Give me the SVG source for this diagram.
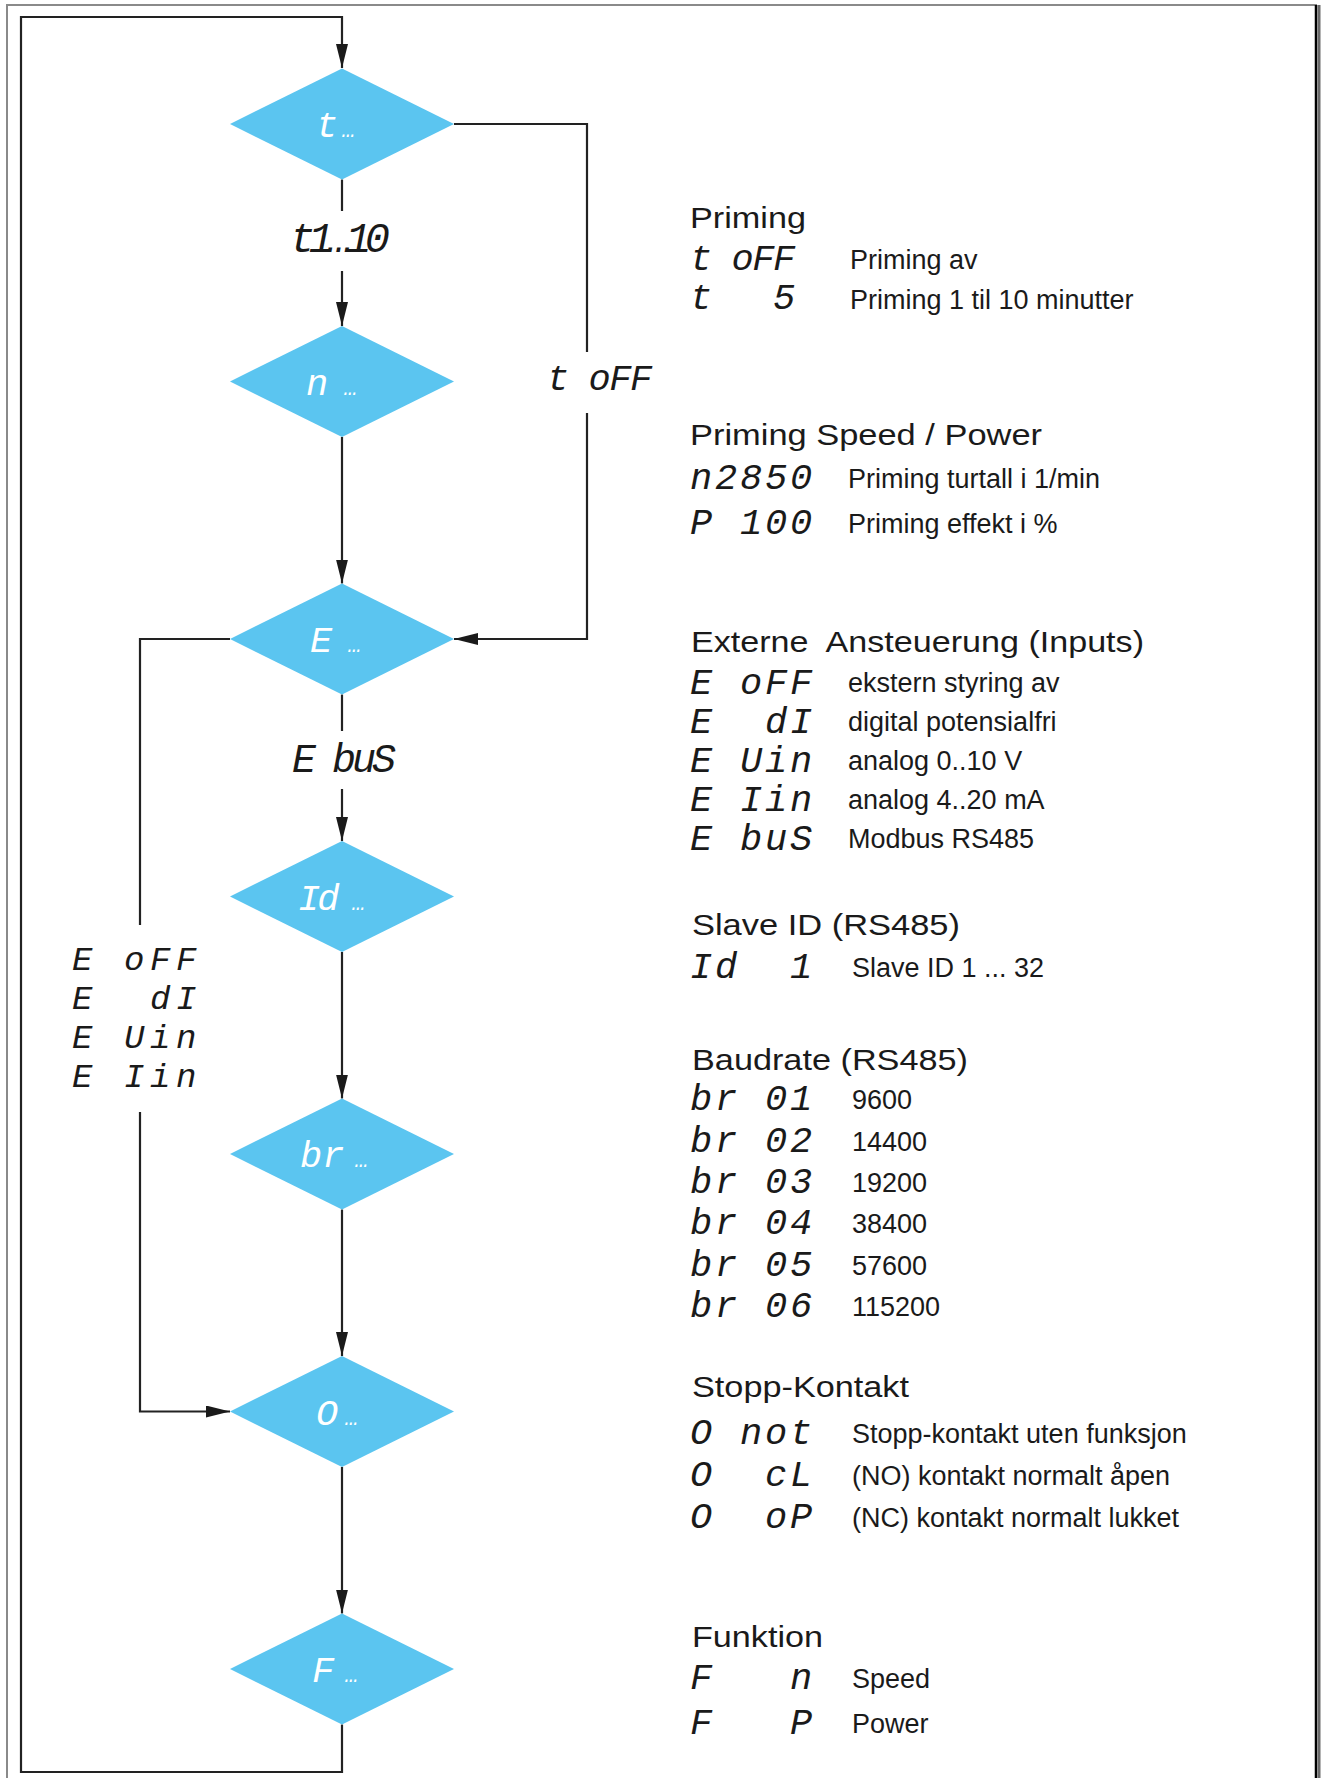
<svg xmlns="http://www.w3.org/2000/svg" width="1321" height="1778" viewBox="0 0 1321 1778">
<style>
.frame-g{stroke:#8a8a8a;stroke-width:2;fill:none}
.frame-k{stroke:#000;stroke-width:2.5;fill:none}
.dia{fill:#5BC5F0;stroke:none}
.ln{stroke:#222;stroke-width:2.2;fill:none}
.arr{stroke:#222;stroke-width:2.2;fill:none;marker-end:url(#ah)}
.title{font-family:"Liberation Sans",Arial,sans-serif;font-size:30px;fill:#1a1a1a}
.desc{font-family:"Liberation Sans",Arial,sans-serif;font-size:27px;fill:#1a1a1a}
.seg{font-family:"Liberation Mono","DejaVu Sans Mono",monospace;font-style:italic;font-size:37px;fill:#1a1a1a;letter-spacing:2.8px;white-space:pre}
.segl{font-family:"Liberation Mono","DejaVu Sans Mono",monospace;font-style:italic;font-size:40px;fill:#1a1a1a;letter-spacing:2px;white-space:pre}
.segb{font-family:"Liberation Mono","DejaVu Sans Mono",monospace;font-style:italic;font-size:34px;fill:#1a1a1a;letter-spacing:5.6px;white-space:pre}
.segw{font-family:"Liberation Mono","DejaVu Sans Mono",monospace;font-style:italic;font-size:37px;fill:#fff;white-space:pre}
.dots{font-size:22px}
</style>
<defs>
<marker id="ah" viewBox="0 0 24 12" refX="24" refY="6" markerWidth="24" markerHeight="12" markerUnits="userSpaceOnUse" orient="auto">
<path d="M0,0 L24,6 L0,12 Z" fill="#1a1a1a"/>
</marker>
</defs>
<rect width="1321" height="1778" fill="#fff"/>
<g id="frame">
<path class="frame-g" d="M7,1778 V5 H1317"/>
<path class="frame-k" d="M1316,5 V1778"/>
<path d="M1319,5 V1778" stroke="#6a6a6a" stroke-width="3" fill="none"/>
</g>
<g id="connectors">
<path class="arr" d="M342,1724.5 V1772 H21 V17 H342 V68"/>
<path class="ln" d="M342,179.5 V211"/>
<path class="arr" d="M342,271 V326"/>
<path class="arr" d="M342,437 V583.5"/>
<path class="ln" d="M342,694.5 V731"/>
<path class="arr" d="M342,789 V841"/>
<path class="arr" d="M342,952 V1098.5"/>
<path class="arr" d="M342,1209.5 V1356"/>
<path class="arr" d="M342,1467 V1613.5"/>
<path class="ln" d="M454,124 H587 V352"/>
<path class="arr" d="M587,413 V639 H454"/>
<path class="ln" d="M230,639 H140 V925"/>
<path class="arr" d="M140,1112 V1411.5 H230"/>
<text class="segl" x="290" y="252" style="font-size:42px" textLength="102">t1…10</text>
<text class="seg" x="547" y="390" textLength="108">t oFF</text>
<text class="segl" x="292" y="772" textLength="106">E buS</text>
<text class="segb" x="72" y="970">E oFF</text>
<text class="segb" x="72" y="1009">E  dI</text>
<text class="segb" x="72" y="1048">E Uin</text>
<text class="segb" x="72" y="1087">E Iin</text>
</g>
<g id="node-t">
<path class="dia" d="M342,68.5 L454,124 L342,179.5 L230,124 Z"/>
<text class="segw" x="316" y="137">t<tspan class="dots" x="342">…</tspan></text>
</g>
<g id="node-n">
<path class="dia" d="M342,326 L454,381.5 L342,437 L230,381.5 Z"/>
<text class="segw" x="306" y="394.5">n<tspan class="dots" x="344">…</tspan></text>
</g>
<g id="node-E">
<path class="dia" d="M342,583.5 L454,639 L342,694.5 L230,639 Z"/>
<text class="segw" x="310" y="652">E<tspan class="dots" x="348">…</tspan></text>
</g>
<g id="node-Id">
<path class="dia" d="M342,841 L454,896.5 L342,952 L230,896.5 Z"/>
<text class="segw" x="298" y="909.5" style="letter-spacing:-3px">Id<tspan class="dots" x="352" style="letter-spacing:0">…</tspan></text>
</g>
<g id="node-br">
<path class="dia" d="M342,1098.5 L454,1154 L342,1209.5 L230,1154 Z"/>
<text class="segw" x="300" y="1167">br<tspan class="dots" x="355">…</tspan></text>
</g>
<g id="node-O">
<path class="dia" d="M342,1356 L454,1411.5 L342,1467 L230,1411.5 Z"/>
<text class="segw" x="316" y="1424.5">O<tspan class="dots" x="345">…</tspan></text>
</g>
<g id="node-F">
<path class="dia" d="M342,1613.5 L454,1669 L342,1724.5 L230,1669 Z"/>
<text class="segw" x="312" y="1682">F<tspan class="dots" x="345">…</tspan></text>
</g>
<g id="legend">
<text class="title" x="690" y="228" textLength="116" lengthAdjust="spacingAndGlyphs">Priming</text>
<text class="seg" x="690" y="270" textLength="108">t oFF</text>
<text class="desc" x="850" y="269">Priming av</text>
<text class="seg" x="690" y="309" textLength="108">t   5</text>
<text class="desc" x="850" y="309">Priming 1 til 10 minutter</text>

<text class="title" x="690" y="445" textLength="352" lengthAdjust="spacingAndGlyphs">Priming Speed / Power</text>
<text class="seg" x="690" y="489">n2850</text>
<text class="desc" x="848" y="488">Priming turtall i 1/min</text>
<text class="seg" x="690" y="534">P 100</text>
<text class="desc" x="848" y="533">Priming effekt i %</text>

<text class="title" x="691" y="652" textLength="453" lengthAdjust="spacingAndGlyphs" style="white-space:pre">Externe  Ansteuerung (Inputs)</text>
<text class="seg" x="690" y="694">E oFF</text>
<text class="desc" x="848" y="692">ekstern styring av</text>
<text class="seg" x="690" y="733">E  dI</text>
<text class="desc" x="848" y="731">digital potensialfri</text>
<text class="seg" x="690" y="772">E Uin</text>
<text class="desc" x="848" y="770">analog 0..10 V</text>
<text class="seg" x="690" y="811">E Iin</text>
<text class="desc" x="848" y="809">analog 4..20 mA</text>
<text class="seg" x="690" y="850">E buS</text>
<text class="desc" x="848" y="848">Modbus RS485</text>

<text class="title" x="692" y="935" textLength="268" lengthAdjust="spacingAndGlyphs">Slave ID (RS485)</text>
<text class="seg" x="690" y="978">Id  1</text>
<text class="desc" x="852" y="977">Slave ID 1 ... 32</text>

<text class="title" x="692" y="1070" textLength="276" lengthAdjust="spacingAndGlyphs">Baudrate (RS485)</text>
<text class="seg" x="690" y="1110">br 01</text>
<text class="desc" x="852" y="1109">9600</text>
<text class="seg" x="690" y="1152">br 02</text>
<text class="desc" x="852" y="1151">14400</text>
<text class="seg" x="690" y="1193">br 03</text>
<text class="desc" x="852" y="1192">19200</text>
<text class="seg" x="690" y="1234">br 04</text>
<text class="desc" x="852" y="1233">38400</text>
<text class="seg" x="690" y="1276">br 05</text>
<text class="desc" x="852" y="1275">57600</text>
<text class="seg" x="690" y="1317">br 06</text>
<text class="desc" x="852" y="1316">115200</text>

<text class="title" x="692" y="1397" textLength="217" lengthAdjust="spacingAndGlyphs">Stopp-Kontakt</text>
<text class="seg" x="690" y="1444">O not</text>
<text class="desc" x="852" y="1443">Stopp-kontakt uten funksjon</text>
<text class="seg" x="690" y="1486">O  cL</text>
<text class="desc" x="852" y="1485">(NO) kontakt normalt åpen</text>
<text class="seg" x="690" y="1528">O  oP</text>
<text class="desc" x="852" y="1527">(NC) kontakt normalt lukket</text>

<text class="title" x="692" y="1647" textLength="131" lengthAdjust="spacingAndGlyphs">Funktion</text>
<text class="seg" x="690" y="1689">F   n</text>
<text class="desc" x="852" y="1688">Speed</text>
<text class="seg" x="690" y="1734">F   P</text>
<text class="desc" x="852" y="1733">Power</text>
</g>
</svg>
